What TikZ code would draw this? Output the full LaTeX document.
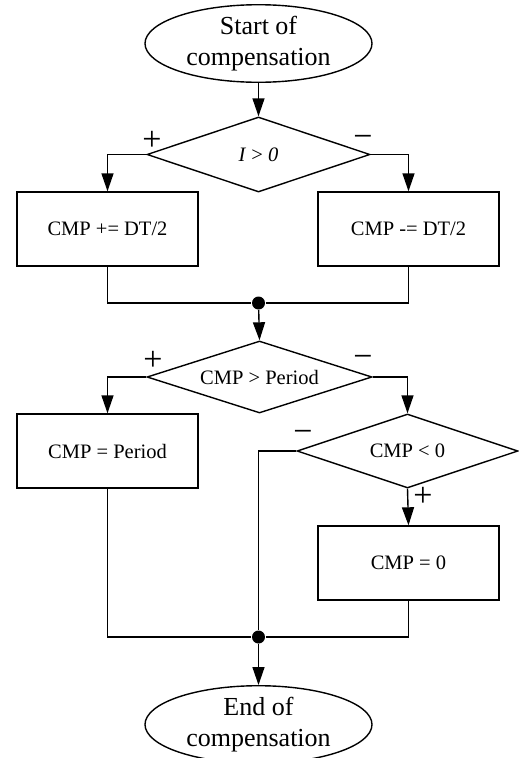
\documentclass[tikz,border=0pt]{standalone}
\usepackage{fontspec}
\setmainfont{Liberation Serif}
\usetikzlibrary{shapes.geometric,arrows.meta}
\begin{document}
\begin{tikzpicture}[x=1pt,y=-1pt,line width=1.4pt,
  term/.style={ellipse,draw,minimum width=227pt,minimum height=73pt,inner sep=0pt,align=center,font=\fontsize{26}{31}\selectfont},
  proc/.style={rectangle,draw,minimum width=181pt,minimum height=74pt,inner sep=0pt,font=\fontsize{20.5}{24}\selectfont},
  dec/.style={diamond,draw,inner sep=0pt,aspect=3.05,font=\fontsize{20.5}{24}\selectfont},
  junc/.style={circle,fill,inner sep=0pt,minimum size=13pt},
  sign/.style={inner sep=0pt,font=\fontsize{34}{36}\selectfont},
  arr/.style={-{Triangle[length=18pt,width=12pt]}}]
\useasboundingbox (0,0) rectangle (519,758);
\node[term] (start) at (258.5,43.5) {Start of\\compensation};
\node[dec,minimum width=223pt,minimum height=75pt] (d1) at (258.5,154.5) {\textit{I} > \textit{0}};
\node[proc] (b1) at (107.5,229) {CMP += DT/2};
\node[proc] (b2) at (408.5,229) {CMP -= DT/2};
\node[junc] (j1) at (258.5,303) {};
\node[dec,minimum width=225pt,minimum height=72pt] (d2) at (259.5,377) {CMP > Period};
\node[proc] (b3) at (107.5,451) {CMP = Period};
\node[dec,minimum width=221pt,minimum height=74pt] (d3) at (407.5,451) {CMP < 0};
\node[proc] (b4) at (408.5,563) {CMP = 0};
\node[junc] (j2) at (258.5,637) {};
\node[term] (end) at (258.5,724.5) {End of\\compensation};
\coordinate (c1) at (j2 |- d3.west);
\node[sign] (p1) at (152,141) {+};
\node[sign] (m1) at (363,141) {−};
\node[sign] (p2) at (153,361) {+};
\node[sign] (m2) at (363,361) {−};
\node[sign] (m3) at (303,436) {−};
\node[sign] (p3) at (423,497) {+};
\draw[arr] (start) -- (d1);
\draw[arr] (d1.west) -| (b1.north);
\draw[arr] (d1.east) -| (b2.north);
\draw (b1.south) |- (j1);
\draw (b2.south) |- (j1);
\draw[arr] (j1) -- (d2.north);
\draw[arr] (d2.west) -| (b3.north);
\draw[arr] (d2.east) -| (d3.north);
\draw[arr] (d3.south) -- (b4.north);
\draw (d3.west) -- (c1) -- (j2);
\draw (b3.south) |- (j2);
\draw (b4.south) |- (j2);
\draw[arr] (j2) -- (end.north);
\end{tikzpicture}
\end{document}
